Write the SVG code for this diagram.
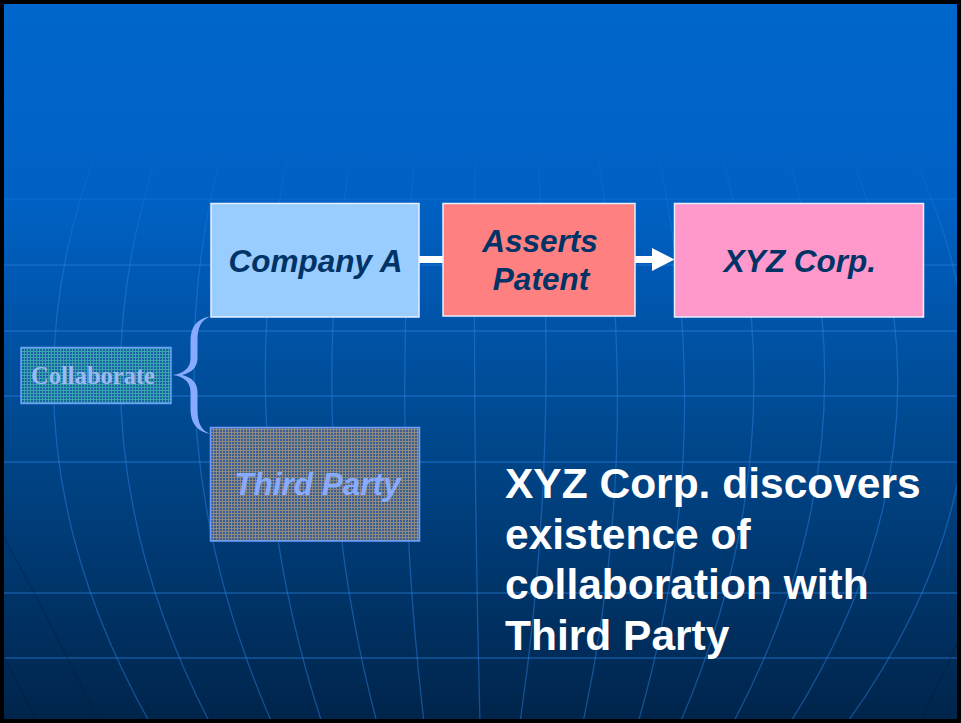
<svg xmlns="http://www.w3.org/2000/svg" width="961" height="723" viewBox="0 0 961 723">
<style>
.grid{fill:none;stroke:#2F86E6;stroke-width:1.3;stroke-opacity:0.45}
.shadow{fill:none;stroke:#001A3C;stroke-width:1.3;stroke-opacity:0.35}
.box{stroke:#E6F0FF;stroke-width:1.5}
.lbl{font-family:"Liberation Sans",Arial,sans-serif;font-weight:bold;font-style:italic;font-size:31.5px;fill:#003366;text-anchor:middle}
.conn{stroke:#FFFFFF;stroke-width:7;fill:none}
.big{font-family:"Liberation Sans",Arial,sans-serif;font-weight:bold;font-size:42.5px;fill:#FFFFFF}
</style>
<defs>
<linearGradient id="bg" x1="0" y1="0" x2="0" y2="1">
<stop offset="0" stop-color="#0066CC"/>
<stop offset="0.28" stop-color="#0061C4"/>
<stop offset="0.6" stop-color="#00488E"/>
<stop offset="1" stop-color="#00244A"/>
</linearGradient>
<linearGradient id="fade" gradientUnits="userSpaceOnUse" x1="0" y1="140" x2="0" y2="280">
<stop offset="0" stop-color="#FFFFFF" stop-opacity="0"/>
<stop offset="0.45" stop-color="#FFFFFF" stop-opacity="0.5"/>
<stop offset="1" stop-color="#FFFFFF" stop-opacity="1"/>
</linearGradient>
<mask id="gridMask" maskUnits="userSpaceOnUse" x="0" y="0" width="961" height="723">
<rect width="961" height="723" fill="url(#fade)"/>
</mask>
<pattern id="pc" width="3" height="3" patternUnits="userSpaceOnUse">
<rect width="3" height="3" fill="#1F5FA8"/>
<rect width="3" height="1" fill="#37A6AC"/>
<rect width="1" height="3" fill="#37A6AC"/>
</pattern>
<pattern id="pt" width="3" height="3" patternUnits="userSpaceOnUse">
<rect width="3" height="3" fill="#3C5E92"/>
<rect width="3" height="1" fill="#8E8A80"/>
<rect width="1" height="3" fill="#8E8A80"/>
</pattern>
<marker id="head" markerUnits="userSpaceOnUse" markerWidth="24" markerHeight="24" refX="0" refY="11.5" orient="auto">
<path d="M0,0 L22.5,11.5 L0,23 Z" fill="#FFFFFF"/>
</marker>
</defs>

<g id="background">
<rect x="0" y="0" width="961" height="723" fill="url(#bg)"/>
<g mask="url(#gridMask)">
<g class="grid">
<path d="M0,199H961M0,265H961M0,331H961M0,396H961M0,462H961M0,593H961M0,658H961"/>
<path d="M97,150 Q-11.5,436.5 150,723"/>
<path d="M159,150 Q61.5,436.5 210,723"/>
<path d="M222,150 Q147,436.5 272,723"/>
<path d="M289,150 Q228.5,436.5 322,723"/>
<path d="M352,150 Q301.5,436.5 377,723"/>
<path d="M415,150 Q390.5,436.5 424,723"/>
<path d="M475,150 Q472.5,436.5 480,723"/>
<path d="M537,150 Q561.5,436.5 520,723"/>
<path d="M597,150 Q644,436.5 583,723"/>
<path d="M657,150 Q720.5,436.5 638,723"/>
<path d="M720,150 Q804,436.5 680,723"/>
<path d="M785,150 Q885,436.5 733,723"/>
<path d="M848,150 Q971,436.5 790,723"/>
<path d="M910,150 Q1051.5,436.5 847,723"/>
</g>
<g class="shadow">
<path d="M0,530 Q55,630 100,723"/>
<path d="M0,650 Q20,685 37,723"/>
<path d="M961,635 Q940,680 920,723"/>
</g>
</g>
</g>

<g id="connectors">
<line class="conn" x1="419" y1="259.5" x2="443" y2="259.5"/>
<line class="conn" x1="635" y1="259.5" x2="652" y2="259.5" marker-end="url(#head)"/>
</g>

<g id="company-a">
<rect class="box" x="211" y="203.5" width="208" height="113.5" fill="#99CCFF"/>
<text class="lbl" x="315.5" y="272">Company A</text>
</g>

<g id="asserts-patent">
<rect class="box" x="443" y="203.5" width="192" height="112.5" fill="#FF8080"/>
<text class="lbl" x="540" y="252">Asserts</text>
<text class="lbl" x="541" y="290">Patent</text>
</g>

<g id="xyz-corp">
<rect class="box" x="674.5" y="203.5" width="249" height="113.5" fill="#FF99CC"/>
<text class="lbl" x="800" y="272">XYZ Corp.</text>
</g>

<g id="collaborate">
<rect x="21" y="347.5" width="150" height="56" fill="url(#pc)" stroke="#6FA0FF" stroke-width="1.5"/>
<text x="93" y="383.5" font-family="'Liberation Serif',Georgia,serif" font-weight="bold" font-size="24.5" fill="#9DB8F2" text-anchor="middle">Collaborate</text>
</g>

<g id="brace">
<path d="M210,316.5 C197,318.5 190.5,327 190.5,341 L190.5,358 C190.5,367 185,373.5 172.5,375 C185,376.5 190.5,383 190.5,392 L190.5,409 C190.5,423 197,431.5 210,434 C201,430 197.5,423 197.5,409 L197.5,392 C197.5,383 192,377.5 182,375 C192,372.5 197.5,367 197.5,358 L197.5,341 C197.5,327 201,320.5 210,316.5 Z" fill="#88AAFF"/>
</g>

<g id="third-party">
<rect x="210.5" y="427.5" width="209" height="113.5" fill="url(#pt)" stroke="#6FA0FF" stroke-width="1.5"/>
<text class="lbl" x="317.5" y="495" style="fill:#88AAFF">Third Party</text>
</g>

<g id="statement">
<text class="big" x="505" y="498">XYZ Corp. discovers</text>
<text class="big" x="505" y="548.5">existence of</text>
<text class="big" x="505" y="599">collaboration with</text>
<text class="big" x="505" y="650">Third Party</text>
</g>

<rect x="2" y="2" width="957" height="719" fill="none" stroke="#000000" stroke-width="4"/>
</svg>
